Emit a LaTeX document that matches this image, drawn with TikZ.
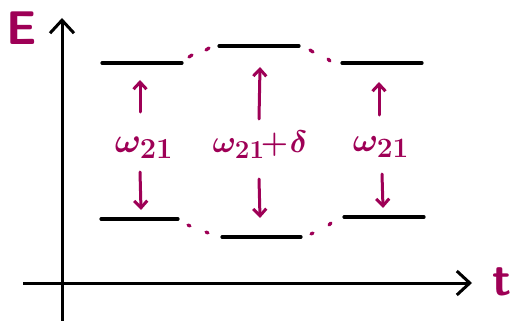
\documentclass[tikz,border=0pt]{standalone}
\usetikzlibrary{arrows.meta}
\definecolor{mag}{RGB}{158,0,86}
\newcommand{\bigtxt}[2]{\scalebox{#1}{#2}}
\begin{document}
\begin{tikzpicture}[x=1pt,y=-1pt,
  axis/.style={line width=3pt,-{Straight Barb[length=13pt,width=24pt,line width=3pt]}},
  level/.style={line width=3.2pt,line cap=round},
  tr/.style={mag,line width=3pt,line cap=round,-{Straight Barb[length=7pt,width=13pt,line width=3pt]}},
  dotm/.style={mag,line width=3.2pt,line cap=round},
  lab/.style={mag,inner sep=0pt,font=\Huge\boldmath},
  big/.style={mag,inner sep=0pt,font=\Huge\sffamily\bfseries}]
\useasboundingbox (0,0) rectangle (517,321);
% axes
\coordinate (yb) at (62,321); \coordinate (yt) at (62,18);
\coordinate (xl) at (23,283); \coordinate (xr) at (472,283);
\draw[axis] (yb) -- (yt);
\draw[axis] (xl) -- (xr);
\node[big] (E) at (22,28) {\bigtxt{1.9}{E}};
\node[big] (T) at (502,282) {\bigtxt{1.9}{t}};
% levels
\coordinate (a1) at (102,63); \coordinate (a2) at (182,63);
\coordinate (b1) at (219,46); \coordinate (b2) at (299,46);
\coordinate (c1) at (342,63); \coordinate (c2) at (422,63);
\coordinate (d1) at (101,219); \coordinate (d2) at (178,219);
\coordinate (e1) at (222,237); \coordinate (e2) at (301,237);
\coordinate (f1) at (344,217); \coordinate (f2) at (424,217);
\foreach \p/\q in {a1/a2,b1/b2,c1/c2,d1/d2,e1/e2,f1/f2}
  \draw[level] (\p) -- (\q);
% dots
\foreach \x/\y/\u/\v in {189/57/192/55, 206/50/209/48, 310/50/313/52, 328/59/330/61,
  188/225/190/226, 206/232/208/233, 311/234/313/233, 329/225/331/223}
  \draw[dotm] (\x,\y) -- (\u,\v);
% transitions
\coordinate (l1) at (140,112); \coordinate (l2) at (140,80);
\coordinate (l3) at (140,172); \coordinate (l4) at (141,210);
\coordinate (m1) at (259,119); \coordinate (m2) at (260,67);
\coordinate (m3) at (259,179); \coordinate (m4) at (260,218);
\coordinate (r1) at (379,115); \coordinate (r2) at (379,82);
\coordinate (r3) at (382,174); \coordinate (r4) at (383,208);
\draw[tr] (l1) -- (l2);
\draw[tr] (l3) -- (l4);
\draw[tr] (m1) -- (m2);
\draw[tr] (m3) -- (m4);
\draw[tr] (r1) -- (r2);
\draw[tr] (r3) -- (r4);
\node[lab] (w1) at (144,148) {\bigtxt{1.4}{$\omega_{21}$}};
\node[lab] (w2) at (260,145) {\bigtxt{1.25}{$\omega_{21}{\mkern-2mu+}\mkern1mu\delta$}};
\node[lab] (w3) at (381,147) {\bigtxt{1.35}{$\omega_{21}$}};
\end{tikzpicture}
\end{document}
